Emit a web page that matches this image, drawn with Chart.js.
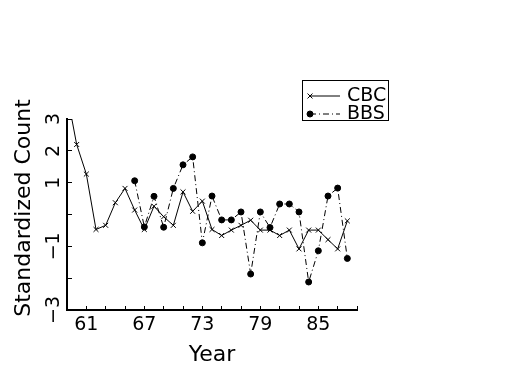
<!DOCTYPE html>
<html lang="en">
<head>
<meta charset="UTF-8" />
<title>CBC vs BBS standardized counts</title>
<script src="https://cdn.jsdelivr.net/npm/chart.js"></script>
<style>
  html, body { margin: 0; padding: 0; background: #fff; }
</style>
</head>
<body>
<canvas id="chart" width="525" height="375"></canvas>
<script>
  // values
  const cbcYears = [59, 60, 61, 62, 63, 64, 65, 66, 67, 68, 69, 70, 71, 72, 73, 74,
                    75, 76, 77, 78, 79, 80, 81, 82, 83, 84, 85, 86, 87, 88];
  const cbcCounts = [3.8, 2.2, 1.27, -0.47, -0.34, 0.37, 0.82, 0.14, -0.47, 0.26, -0.07, -0.34, 0.71, 0.1, 0.42, -0.47,
                     -0.66, -0.49, -0.34, -0.18, -0.49, -0.49, -0.66, -0.49, -1.08, -0.49, -0.49, -0.79, -1.08, -0.2];
  const bbsYears = [66, 67, 68, 69, 70, 71, 72, 73, 74, 75, 76, 77,
                    78, 79, 80, 81, 82, 83, 84, 85, 86, 87, 88];
  const bbsCounts = [1.06, -0.39, 0.57, -0.4, 0.82, 1.56, 1.81, -0.89, 0.58, -0.17, -0.17, 0.08,
                     -1.87, 0.08, -0.41, 0.33, 0.33, 0.08, -2.12, -1.14, 0.58, 0.83, -1.38];
  const xLabelYears = [61, 67, 73, 79, 85];
  const yTickValues = [3, 2, 1, -1, -3];
  const yTickText = ['3', '2', '1', '\u22121', '\u22123'];

  const FONT = "'DejaVu Sans ExtraLight', 'DejaVu Sans', sans-serif";
  Chart.defaults.font.family = FONT;
  Chart.defaults.color = '#000';

  const toPoints = (xs, ys) => xs.map((x, i) => ({ x: x, y: ys[i] }));

  // y tick labels, y title and legend are drawn by hand
  const extras = {
    id: 'extras',
    afterDraw(chart) {
      const ctx = chart.ctx;
      const y = chart.scales.y;
      ctx.save();
      ctx.fillStyle = '#000';
      ctx.textAlign = 'center';
      ctx.textBaseline = 'middle';

      ctx.font = '19px ' + FONT;
      yTickValues.forEach((v, i) => {
        ctx.save();
        ctx.translate(54, y.getPixelForValue(v));
        ctx.rotate(-Math.PI / 2);
        ctx.fillText(yTickText[i], 0, 0);
        ctx.restore();
      });

      ctx.font = '22px ' + FONT;
      ctx.save();
      ctx.translate(24, 208);
      ctx.rotate(-Math.PI / 2);
      ctx.fillText('Standardized Count', 0, 0);
      ctx.restore();

      // legend box
      ctx.strokeStyle = '#000';
      ctx.lineWidth = 1;
      ctx.strokeRect(302.5, 80.5, 86, 40);
      ctx.font = '19px ' + FONT;
      ctx.textAlign = 'left';
      const rows = [96, 114];
      chart.data.datasets.forEach((ds, i) => {
        const ly = rows[i];
        ctx.save();
        ctx.lineWidth = ds.borderWidth;
        ctx.setLineDash(ds.borderDash || []);
        ctx.beginPath();
        ctx.moveTo(310, ly);
        ctx.lineTo(340, ly);
        ctx.stroke();
        ctx.restore();
        Chart.helpers.drawPoint(ctx, {
          pointStyle: ds.pointStyle, radius: ds.pointRadius,
          borderWidth: ds.pointBorderWidth, rotation: 0
        }, 310, ly);
        ctx.fillStyle = '#000';
        ctx.fillText(ds.label, 347, ly);
      });
      ctx.restore();
    }
  };

  new Chart(document.getElementById('chart'), {
    type: 'line',
    data: {
      datasets: [{
        label: 'CBC',
        data: toPoints(cbcYears, cbcCounts),
        borderColor: '#000',
        backgroundColor: '#000',
        borderWidth: 1,
        pointStyle: 'crossRot',
        pointRadius: 3.5,
        pointBorderWidth: 1,
        pointBorderColor: '#000',
        tension: 0
      }, {
        label: 'BBS',
        data: toPoints(bbsYears, bbsCounts),
        borderColor: '#000',
        backgroundColor: '#000',
        borderWidth: 1,
        borderDash: [6, 3, 1, 3],
        pointStyle: 'circle',
        pointRadius: 3,
        pointBorderWidth: 1,
        pointBorderColor: '#000',
        pointBackgroundColor: '#000',
        tension: 0
      }]
    },
    options: {
      responsive: false,
      animation: false,
      layout: { padding: { left: 0, top: 119, right: 168, bottom: 0 } },
      plugins: { legend: { display: false }, tooltip: { enabled: false } },
      scales: {
        x: {
          type: 'linear',
          min: 59,
          max: 89,
          afterFit: s => { s.height = 65; },
          border: { display: true, color: '#000', width: 2 },
          grid: { drawOnChartArea: false, drawTicks: true, tickLength: -4, color: '#000', lineWidth: 1 },
          ticks: {
            stepSize: 2,
            autoSkip: false,
            maxRotation: 0,
            padding: 8,
            font: { size: 19 },
            callback: v => xLabelYears.includes(v) ? String(v) : ''
          },
          title: { display: true, text: 'Year', font: { size: 22 }, padding: { top: 0, bottom: 7 } }
        },
        y: {
          min: -3,
          max: 3,
          afterFit: s => { s.width = 67; },
          border: { display: true, color: '#000', width: 2 },
          grid: { drawOnChartArea: false, drawTicks: true, tickLength: -5, color: '#000', lineWidth: 1 },
          ticks: { stepSize: 1, callback: () => '' }
        }
      }
    },
    plugins: [extras]
  });
</script>
</body>
</html>
